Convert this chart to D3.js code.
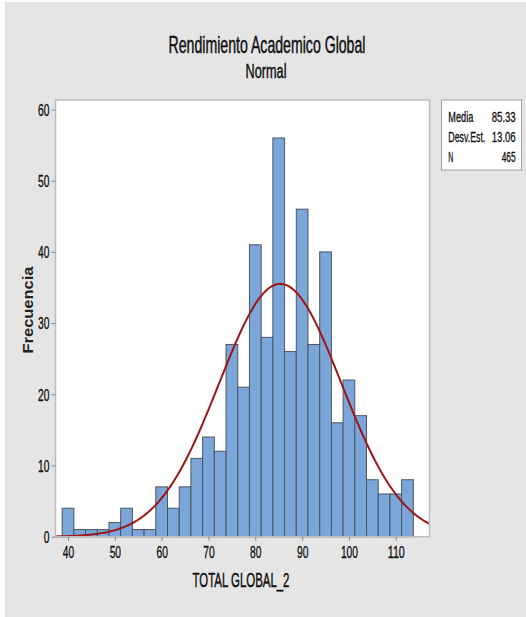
<!DOCTYPE html>
<html>
<head>
<meta charset="utf-8">
<script src="https://cdnjs.cloudflare.com/ajax/libs/d3/7.8.5/d3.min.js"></script>
<style>
body{margin:0;background:#fff;}
text{font-family:"Liberation Sans",Arial,sans-serif;}
</style>
</head>
<body>
<svg id="chart" width="526" height="617"></svg>
<script>
///--------------------Données
var centres=[40,42.5,45,47.5,50,52.5,55,57.5,60,62.5,65,67.5,70,72.5,75,77.5,80,82.5,85,87.5,90,92.5,95,97.5,100,102.5,105,107.5,110,112.5],
frequences=[4,1,1,1,2,4,1,1,7,4,7,11,14,12,27,21,41,28,56,26,46,27,40,16,22,17,8,6,6,8],
largeurClasse=2.5,
ticksX=[40,50,60,70,80,90,100,110],
ticksY=[0,10,20,30,40,50,60],
statNoms=["Media","Desv.Est.","N"],
statVals=["85.33","13.06","465"],
media=85.33,
desv=13.06,
effectif=465;

///--------------------Variables géométriques
var gauche=55.5,
droite=429.5,
haut=100,
bas=536.7;

var svg=d3.select("#chart");

// texte "étroit" : police normale compressée horizontalement à la largeur voulue
function texte(parent,str,x,y,taille,largeur,ancre,trait){
	var t=parent.append("text")
		.attr("font-size",taille)
		.attr("fill","#111")
		.attr("stroke","#111")
		.attr("stroke-width",trait||0.4)
		.attr("text-anchor",ancre||"start")
		.text(str);
	var sx=largeur/t.node().getComputedTextLength();
	t.attr("transform","translate("+x+","+y+") scale("+sx+",1)");
	return t;
}

// fond gris
svg.append("rect").attr("x",5).attr("y",2).attr("width",521).attr("height",615).attr("fill","#e5e5e5");

var x=d3.scaleLinear().domain([37.33,117.2]).range([gauche,droite]);
var y=d3.scaleLinear().domain([0,60]).range([bas,109.5]);

// zone du graphique
svg.append("rect")
	.attr("x",gauche).attr("y",haut)
	.attr("width",droite-gauche).attr("height",bas-haut)
	.attr("fill","#ffffff");

// barres
svg.append("g").selectAll("rect")
	.data(centres)
	.enter()
	.append("rect")
	.attr("x",function(d){return x(d-largeurClasse/2);})
	.attr("y",function(d,i){return y(frequences[i]);})
	.attr("width",function(d){return x(d+largeurClasse/2)-x(d-largeurClasse/2);})
	.attr("height",function(d,i){return y(0)-y(frequences[i]);})
	.attr("fill","#7ba6d9")
	.attr("stroke","#4d5560")
	.attr("stroke-width",1);

// courbe normale ajustée (media, desv, N)
var pts=d3.range(300).map(function(k){
	var v=x.domain()[0]+(x.domain()[1]-x.domain()[0])*k/299;
	var z=(v-media)/desv;
	return [v,effectif*largeurClasse*Math.exp(-z*z/2)/(desv*Math.sqrt(2*Math.PI))];
});
svg.append("path")
	.attr("d",d3.line().x(function(d){return x(d[0]);}).y(function(d){return y(d[1]);})(pts))
	.attr("fill","none")
	.attr("stroke","#9e1515")
	.attr("stroke-width",2);

// cadre
svg.append("rect")
	.attr("x",gauche).attr("y",haut)
	.attr("width",droite-gauche).attr("height",bas-haut)
	.attr("fill","none")
	.attr("stroke","#bcbcbc")
	.attr("stroke-width",1.5);

// axes
var axeX=svg.append("g")
	.attr("transform","translate(0,"+bas+")")
	.call(d3.axisBottom(x).tickValues(ticksX).tickSize(4).tickPadding(3));
var axeY=svg.append("g")
	.attr("transform","translate("+gauche+",0)")
	.call(d3.axisLeft(y).tickValues(ticksY).tickSize(4).tickPadding(2));
[axeX,axeY].forEach(function(a){
	a.select(".domain").remove();
	a.selectAll("line").attr("stroke","#888");
	a.selectAll("text")
		.attr("font-family","Liberation Sans")
		.attr("font-size",16)
		.attr("fill","#111")
		.attr("stroke","#111")
		.attr("stroke-width",0.35)
		.attr("dy",null);
});
axeX.selectAll("text").each(function(d){
	var sx=String(d).length*5.7/this.getComputedTextLength();
	d3.select(this).attr("x",0).attr("y",0)
		.attr("transform","translate(0,21.6) scale("+sx+",1)");
});
axeY.selectAll("text").each(function(d){
	var sx=String(d).length*5.7/this.getComputedTextLength();
	d3.select(this).attr("x",0).attr("y",0)
		.attr("transform","translate(-6,5.7) scale("+sx+",1)");
});

// titres
texte(svg,"Rendimiento Academico Global",267,53.3,23.5,197,"middle",0.5);
texte(svg,"Normal",266,78.3,19.5,41,"middle",0.45);
texte(svg,"TOTAL GLOBAL_2",241,586.7,21,97,"middle",0.5);
svg.append("text")
	.attr("transform","translate(33,310) rotate(-90)")
	.attr("text-anchor","middle")
	.attr("font-family","DejaVu Sans")
	.attr("font-weight","bold")
	.attr("font-size",15)
	.attr("fill","#222")
	.attr("textLength",87)
	.attr("lengthAdjust","spacingAndGlyphs")
	.text("Frecuencia");

// légende
var leg=svg.append("g");
leg.append("rect").attr("x",441.5).attr("y",100).attr("width",80).attr("height",70)
	.attr("fill","#fff").attr("stroke","#a0a0a0").attr("stroke-width",1);
var largNoms=[25,37,5],largVals=[24,24,14];
statNoms.forEach(function(n,i){
	texte(leg,n,448.3,121.7+i*20,14,largNoms[i],"start",0.3);
	texte(leg,statVals[i],515.7,121.7+i*20,14,largVals[i],"end",0.3);
});
</script>
</body>
</html>
